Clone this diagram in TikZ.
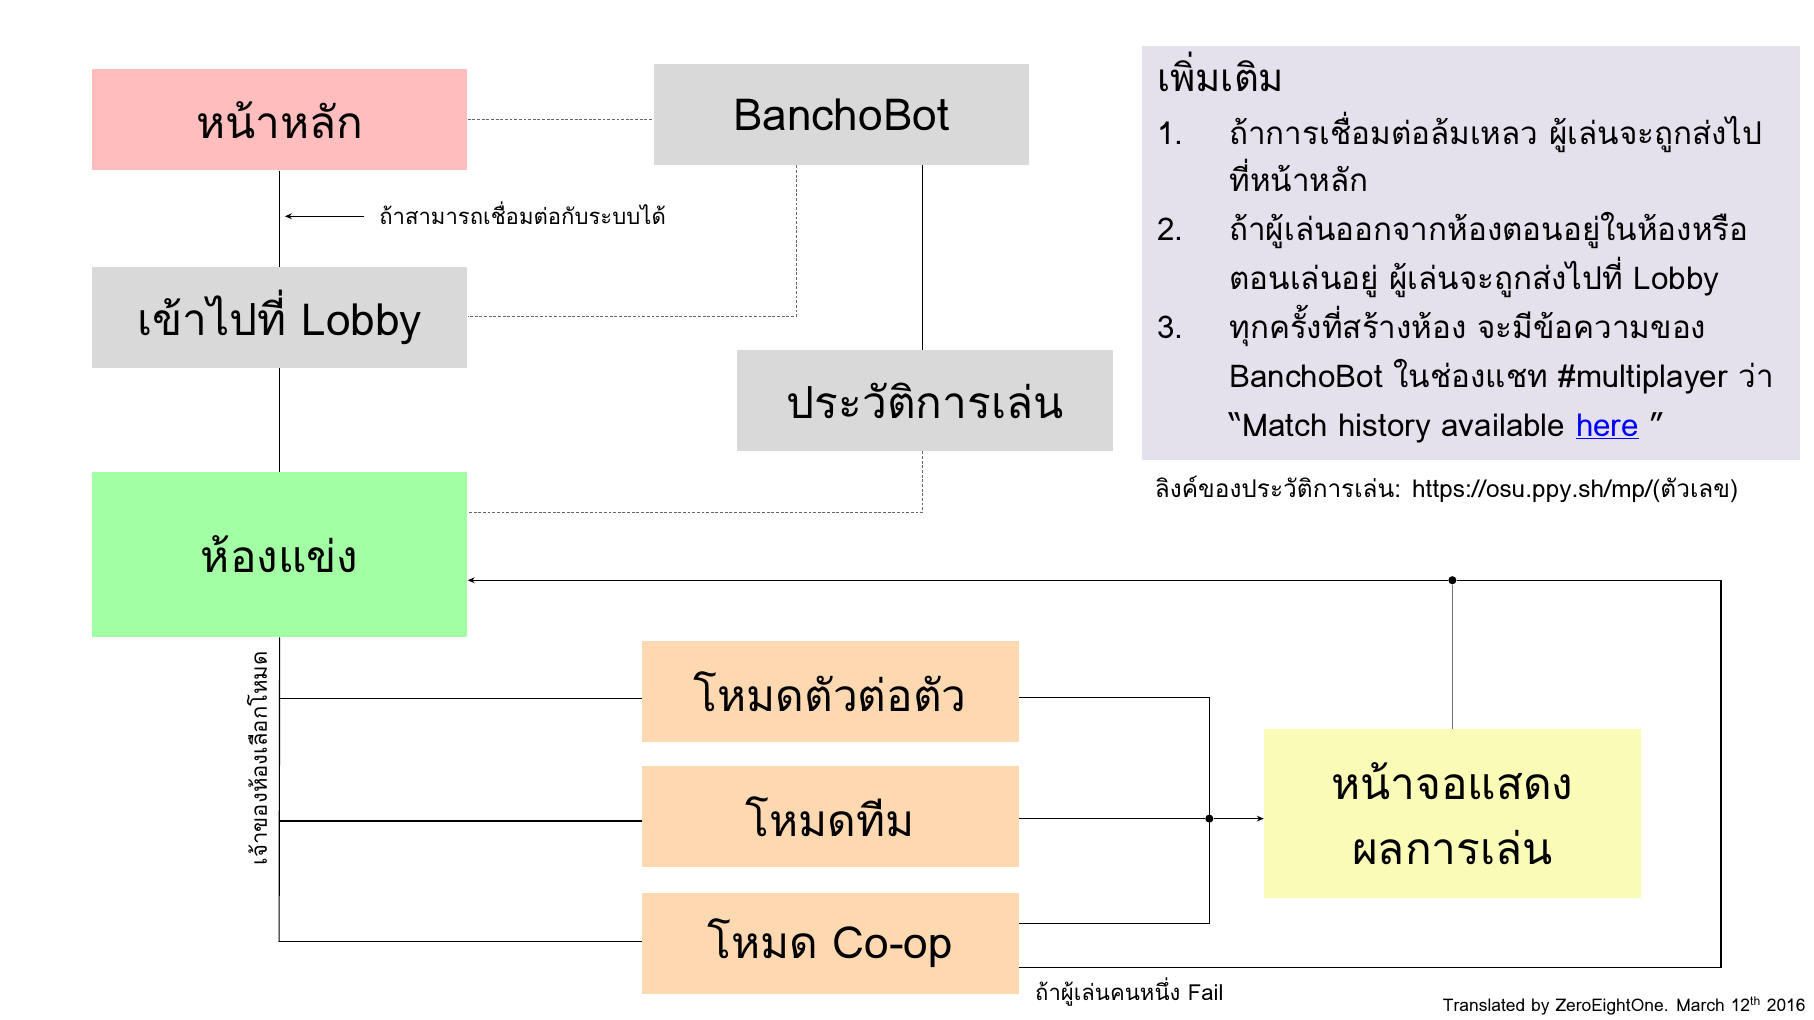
\documentclass[tikz,border=0pt]{standalone}
\usepackage{fontspec}
\setmainfont[Script=Thai]{Loma}
\usetikzlibrary{arrows.meta,calc}
\definecolor{cpink}{HTML}{FFBDBD}
\definecolor{cgray}{HTML}{D9D9D9}
\definecolor{cgreen}{HTML}{A3FFA3}
\definecolor{cpeach}{HTML}{FDD8B1}
\definecolor{cyellow}{HTML}{F9FBB7}
\definecolor{clav}{HTML}{E4E0EC}
\definecolor{clink}{HTML}{0000FF}
\begin{document}
\begin{tikzpicture}[x=1pt,y=-1pt,
  box/.style={minimum width=323pt, minimum height=87pt, inner sep=0pt, align=center, font=\fontsize{38}{56}\selectfont},
  conn/.style={draw=black, line width=1pt},
  thinconn/.style={draw=black!55, line width=0.9pt},
  dotline/.style={draw=black!60, line width=1pt, dash pattern=on 2.5pt off 1.5pt},
  tipa/.style={-{Stealth[length=6pt,width=5pt]}},
  jn/.style={circle, fill=black, inner sep=0pt, minimum size=7pt},
  small/.style={inner sep=0pt, font=\fontsize{19}{23}\selectfont},
  note/.style={inner sep=0pt, anchor=base west, font=\fontsize{27}{32}\selectfont}
]
\useasboundingbox (0,0) rectangle (1560,877);

% boxes
\node[box, fill=cpink]  (main)    at (240.5,103)   {หน้าหลัก};
\node[box, fill=cgray]  (bancho)  at (723.5,98.5)  {BanchoBot};
\node[box, fill=cgray]  (lobby)   at (240.5,273)   {เข้าไปที่ Lobby};
\node[box, fill=cgray]  (history) at (795.5,344.5) {ประวัติการเล่น};
\node[box, fill=cgreen, minimum height=142pt] (room) at (240.5,477) {ห้องแข่ง};
\node[box, fill=cpeach, minimum width=324pt] (mode1) at (714,594.5) {โหมดตัวต่อตัว};
\node[box, fill=cpeach, minimum width=324pt] (mode2) at (714,702.5) {โหมดทีม};
\node[box, fill=cpeach, minimum width=324pt] (mode3) at (714,811.5) {โหมด Co-op};
\node[box, fill=cyellow, minimum width=324pt, minimum height=145pt] (result) at (1249,699.5) {หน้าจอแสดง\\ผลการเล่น};

% note box
\node[fill=clav, minimum width=566pt, minimum height=356pt, inner sep=0pt, anchor=north west] (notebox) at (982,39) {};
\node[note, font=\fontsize{33}{38}\selectfont] (nhead) at (995,79) {เพิ่มเติม};
\node[note] (num1) at (995,124) {1.};
\node[note] (l1) at (1057,124) {ถ้าการเชื่อมต่อล้มเหลว ผู้เล่นจะถูกส่งไป};
\node[note] (l2) at (1057,165) {ที่หน้าหลัก};
\node[note] (num2) at (995,207) {2.};
\node[note] (l3) at (1057,207) {ถ้าผู้เล่นออกจากห้องตอนอยู่ในห้องหรือ};
\node[note] (l4) at (1057,249) {ตอนเล่นอยู่ ผู้เล่นจะถูกส่งไปที่ Lobby};
\node[note] (num3) at (995,291) {3.};
\node[note] (l5) at (1057,291) {ทุกครั้งที่สร้างห้อง จะมีข้อความของ};
\node[note] (l6) at (1057,333) {BanchoBot ในช่องแชท \#multiplayer ว่า};
\node[note] (l7) at (1057,375) {“Match history available \textcolor{clink}{\underline{here}} ”};
\node[note, font=\fontsize{21}{25}\selectfont] (link) at (993,428) {ลิงค์ของประวัติการเล่น: https://osu.ppy.sh/mp/(ตัวเลข)};

% labels
\node[small, anchor=base west] (lbl1) at (326,193) {ถ้าสามารถเชื่อมต่อกับระบบได้};
\node[small, anchor=base west] (lbl2) at (890,860) {ถ้าผู้เล่นคนหนึ่ง Fail};
\node[small, rotate=90] (lbl3) at (221,652) {เจ้าของห้องเลือกโหมด};
\node[inner sep=0pt, anchor=base east, font=\fontsize{15}{18}\selectfont] (credit) at (1553,870) {Translated by ZeroEightOne. March 12\textsuperscript{th} 2016};

% coordinates
\coordinate (a1) at (313,186);
\coordinate (a2) at (245,186);
\coordinate (bd) at (685,272);
\coordinate (hd) at (793,441);
\coordinate (lx) at (240,810);
\coordinate (jx) at (1040,600);
\coordinate (jy) at (1040,794);
\coordinate (rr) at (1480,832);
\coordinate (rt) at (1480,499);

% connectors top
\draw[dotline] (main.east) -- (main.east -| bancho.west);
\draw[conn] (main.south) -- (lobby.north);
\draw[conn, tipa] (a1) -- (a2);
\draw[dotline] (bancho.south -| bd) -- (bd) -- (lobby.east |- bd);
\draw[conn] (bancho.south -| hd) -- (history.north -| hd);
\draw[dotline] (history.south -| hd) -- (hd) -- (room.east |- hd);
\draw[conn] (lobby.south) -- (room.north);

% room to modes
\draw[conn] (room.south) -- (lx);
\draw[conn] (room.south |- 0,601) -- (mode1.west |- 0,601);
\draw[conn] (room.south |- 0,706) -- (mode2.west |- 0,706);
\draw[conn] (lx) -- (mode3.west |- lx);

% modes to result
\draw[conn] (mode1.east |- jx) -- (jx) -- (jy) -- (mode3.east |- jy);
\node[jn] (j1) at (1040,704) {};
\draw[conn] (mode2.east |- j1) -- (j1);
\draw[conn, tipa] (j1) -- (result.west |- j1);

% feedback loop
\node[jn] (j2) at (1249,499) {};
\draw[thinconn] (result.north) -- (j2);
\draw[conn] (mode3.east |- rr) -- (rr) -- (rt) -- (j2);
\draw[conn, tipa] (j2) -- (room.east |- j2);
\end{tikzpicture}
\end{document}
